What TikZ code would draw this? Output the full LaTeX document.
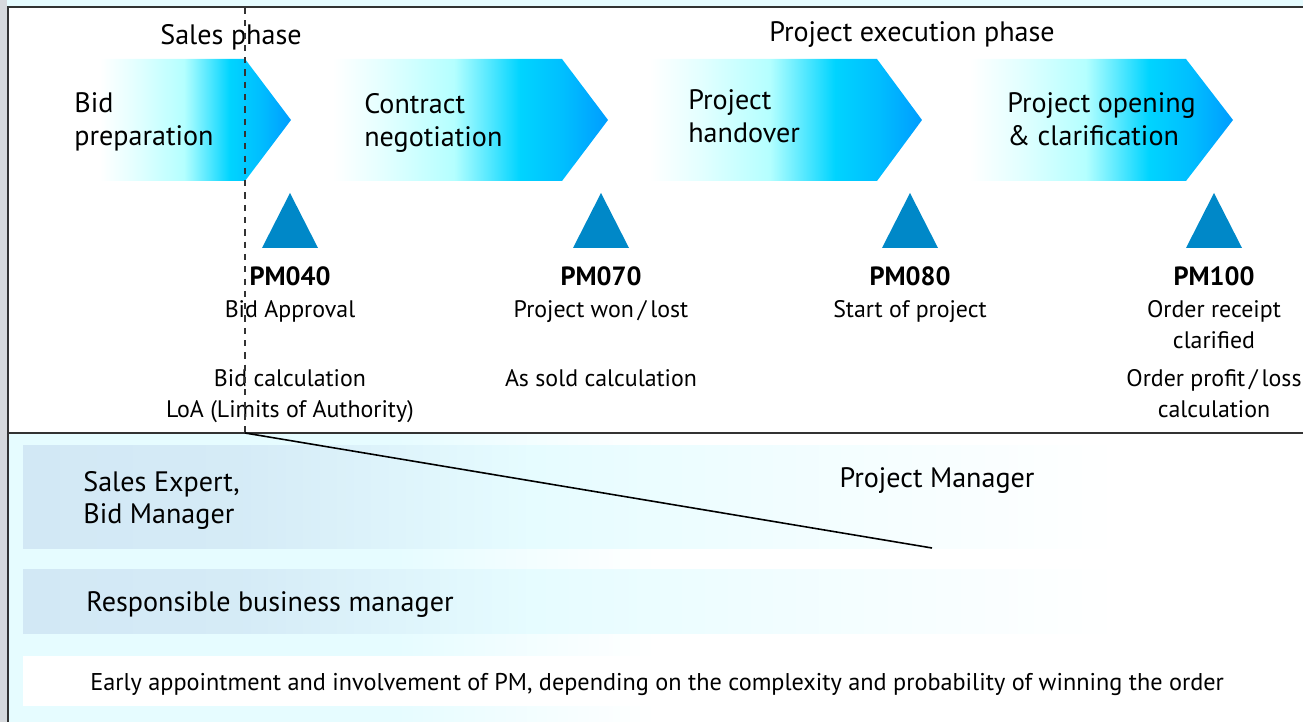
\documentclass[tikz,border=0pt]{standalone}
\usepackage{fontspec}
\setmainfont{PT Sans}
\usetikzlibrary{positioning}

\definecolor{frameGray}{HTML}{333333}
\definecolor{stripGray}{HTML}{D6D9DD}
\definecolor{paleCyan}{HTML}{E6FCFF}
\definecolor{laneBlue}{HTML}{D2E8F5}
\definecolor{mileBlue}{HTML}{0088C8}
\definecolor{phaseA}{HTML}{E4FFFF}
\definecolor{phaseB}{HTML}{B4FFFF}
\definecolor{phaseC}{HTML}{00D4FF}
\definecolor{phaseD}{HTML}{00BEFF}
\definecolor{phaseE}{HTML}{009CFF}

% phase arrows: white on the left, strong blue at the tip
\pgfdeclarehorizontalshading{phasefill}{100bp}{color(0bp)=(white); color(25bp)=(white);
  color(34bp)=(phaseA); color(47bp)=(phaseB); color(59bp)=(phaseC);
  color(67bp)=(phaseD); color(75bp)=(phaseE); color(100bp)=(phaseE)}
% role lanes
\pgfdeclarehorizontalshading{lanefill}{100bp}{color(0bp)=(laneBlue); color(25bp)=(laneBlue);
  color(34bp)=(laneBlue!85!paleCyan); color(46bp)=(paleCyan); color(60bp)=(paleCyan!40!white);
  color(70bp)=(white); color(100bp)=(white)}
% background of the lower part
\pgfdeclarehorizontalshading{lowerfill}{100bp}{color(0bp)=(paleCyan); color(25bp)=(paleCyan);
  color(40bp)=(paleCyan); color(50bp)=(white); color(75bp)=(white); color(100bp)=(white)}

\begin{document}
\begin{tikzpicture}[x=0.02cm, y=-0.02cm,
  phasetext/.style={anchor=north west, align=left, inner sep=0pt, font=\fontsize{16}{18.7}\selectfont},
  headtext/.style={inner sep=0pt, font=\fontsize{16}{19}\selectfont},
  pmtext/.style={anchor=north, inner sep=0pt, font=\fontsize{15}{18}\selectfont\bfseries},
  desctext/.style={anchor=north, align=center, inner sep=0pt, font=\fontsize{13.6}{17.6}\selectfont},
  roletext/.style={anchor=north west, align=left, inner sep=0pt, font=\fontsize{16}{18.2}\selectfont},
  notetext/.style={anchor=north west, inner sep=0pt, font=\fontsize{13.8}{16}\selectfont},
  frame/.style={frameGray, line width=1.2pt}]
\useasboundingbox (0,0) rectangle (1303,722);

% frame and background
\fill[stripGray] (0,0) rectangle (7,722);
\fill[paleCyan] (7,0) rectangle (1303,7);
\shade[shading=lowerfill] (8,434) rectangle (1303,722);
\shade[shading=lanefill] (23,446) rectangle (1240,549);
\shade[shading=lanefill] (23,570) rectangle (1240,634);
\fill[white] (23,656) rectangle (1303,706);

\coordinate (corner) at (8,7);
\coordinate (top right) at (1303,7);
\coordinate (bottom left) at (8,722);
\coordinate (lane left) at (8,433);
\coordinate (lane right) at (1303,433);
\draw[frame] (bottom left) -- (corner) -- (top right);
\draw[frame] (lane left) -- (lane right);

% phases
\node (sales) [headtext] at (231,37) {Sales phase};
\node (execution) [headtext] at (912,35) {Project execution phase};

\foreach \l/\r/\t/\txt/\tx/\ty [count=\i] in {
	100/245/291/{Bid\\preparation}/74/92,
	333/562/608/{Contract\\negotiation}/364/93,
	650/877/922/{Project\\handover}/688/89,
	970/1186/1233/{Project opening\\\& clarification}/1007/92} {
	\shade[shading=phasefill] (\l,59) -- (\r,59) -- (\t,120) -- (\r,181) -- (\l,181) -- cycle;
	\node (phase\i) [phasetext] at (\tx,\ty) {\txt};
}

% milestones
\foreach \x/\pm/\desc/\calc [count=\i] in {
	290/PM040/{Bid Approval}/{Bid calculation\\LoA (Limits of Authority)},
	601/PM070/{Project won\,/\,lost}/{As sold calculation},
	910/PM080/{Start of project}/{},
	1214/PM100/{Order receipt\\clarified}/{Order profit\,/\,loss\\calculation}} {
	\fill[mileBlue] (\x-28,248) -- (\x,193) -- (\x+28,248) -- cycle;
	\node (pm\i) [pmtext] at (\x,266) {\pm};
	\node (desc\i) [desctext] at (\x,300) {\desc};
	\node (calc\i) [desctext] at (\x,369) {\calc};
}

% switch from sales to project management
\coordinate (split top) at (245,8);
\coordinate (split) at (245,433);
\coordinate (handover end) at (932,548);
\draw[frameGray, line width=0.8pt, dash pattern=on 3.5pt off 3.5pt] (split top) -- (split);
\draw[black, line width=0.9pt] (split) -- (handover end);

% roles
\node (sales role) [roletext] at (83,471) {Sales Expert,\\Bid Manager};
\node (pm role) [headtext] at (937,481) {Project Manager};
\node (business role) [roletext] at (86,591) {Responsible business manager};
\node (note) [notetext] at (90,673) {Early appointment and involvement of PM, depending on the complexity and probability of winning the order};
\end{tikzpicture}
\end{document}
